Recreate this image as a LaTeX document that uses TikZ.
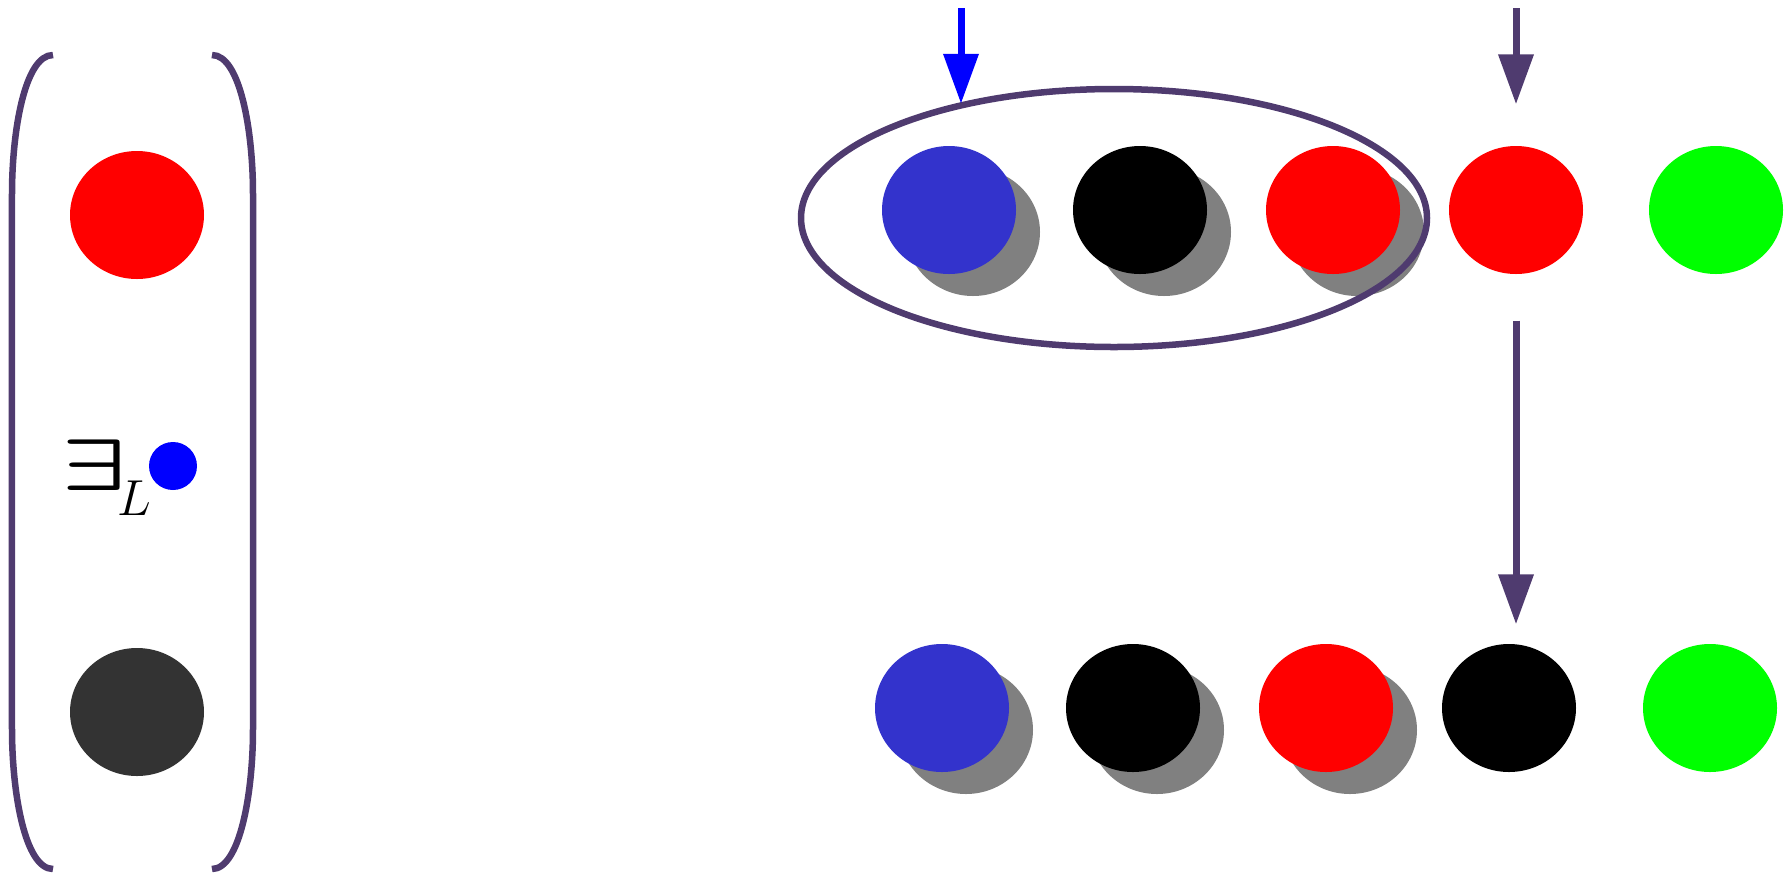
\documentclass[tikz,border=0pt]{standalone}
\usepackage{amsmath}
\usepackage{amssymb}
\usepackage{graphicx}
\usetikzlibrary{arrows.meta, positioning, shapes.geometric, calc}
\definecolor{frame}{HTML}{4F3B6F}
\definecolor{ballblue}{HTML}{3333CC}
\definecolor{balldark}{HTML}{333333}

\begin{document}
\begin{tikzpicture}[
    ball/.style = {ellipse, inner sep=0pt, minimum width=1.34cm, minimum height=1.28cm},
    shade/.style = {ball, fill=gray},
    brace/.style = {draw=frame, line width=0.065cm},
    pointer/.style = {draw=frame, line width=0.07cm, -{Triangle[length=0.5cm, width=0.34cm]}}
]
    \useasboundingbox (0,0) rectangle (17.86,-8.74);

    % context in brackets
    \draw [brace] (0.53,-0.55) .. controls (0.25,-0.55) and (0.12,-1.3) .. (0.12,-1.94) -- (0.12,-7.29) .. controls (0.12,-7.93) and (0.25,-8.69) .. (0.53,-8.69);
    \draw [brace] (2.12,-0.55) .. controls (2.40,-0.55) and (2.53,-1.3) .. (2.53,-1.94) -- (2.53,-7.29) .. controls (2.53,-7.93) and (2.40,-8.69) .. (2.12,-8.69);
    \node [ball, fill=red] (ctxRed) at (1.37,-2.15) {};
    \node [ball, fill=balldark] (ctxDark) at (1.37,-7.12) {};
    \node [circle, fill=blue, inner sep=0pt, minimum size=0.48cm] (ctxDot) at (1.73,-4.66) {};
    \node [anchor=base west, inner sep=0pt, font=\fontsize{22.7}{26}\selectfont] (ctxExists) at (0.61,-4.90)
        {\scalebox{1.4}[1]{$\boldsymbol{\exists}$}\kern-0.9mm\raisebox{-0.25cm}{\fontsize{14.8}{16}\selectfont$L$}};

    % top row
    \node [shade] (s1) at (9.73,-2.32) {};
    \node [ball, fill=ballblue] (q1) at (9.49,-2.10) {};
    \node [shade] (s2) at (11.64,-2.32) {};
    \node [ball, fill=black] (q2) at (11.40,-2.10) {};
    \node [shade] (s3) at (13.57,-2.32) {};
    \node [ball, fill=red] (q3) at (13.33,-2.10) {};
    \node [ball, fill=red] (q4) at (15.16,-2.10) {};
    \node [ball, fill=green] (q5) at (17.16,-2.10) {};
    \node [ellipse, brace, inner sep=0pt, minimum width=6.26cm, minimum height=2.58cm] (lens) at (11.14,-2.18) {};

    % bottom row
    \node [shade] (t1) at (9.66,-7.30) {};
    \node [ball, fill=ballblue] (b1) at (9.42,-7.08) {};
    \node [shade] (t2) at (11.57,-7.30) {};
    \node [ball, fill=black] (b2) at (11.33,-7.08) {};
    \node [shade] (t3) at (13.50,-7.30) {};
    \node [ball, fill=red] (b3) at (13.26,-7.08) {};
    \node [ball, fill=black] (b4) at (15.09,-7.08) {};
    \node [ball, fill=green] (b5) at (17.10,-7.08) {};

    % arrows
    \coordinate (qIn) at (9.61,-0.08);
    \coordinate (rIn) at (15.16,-0.08);
    \draw [pointer, draw=blue] (qIn) -- ([yshift=-1.8mm]qIn |- lens.north);
    \draw [pointer] (rIn) -- ([yshift=4.1mm]q4.north);
    \draw [pointer] ([yshift=-4.6mm]q4.south) -- ([yshift=1.9mm]q4.south |- b4.north);
\end{tikzpicture}
\end{document}
